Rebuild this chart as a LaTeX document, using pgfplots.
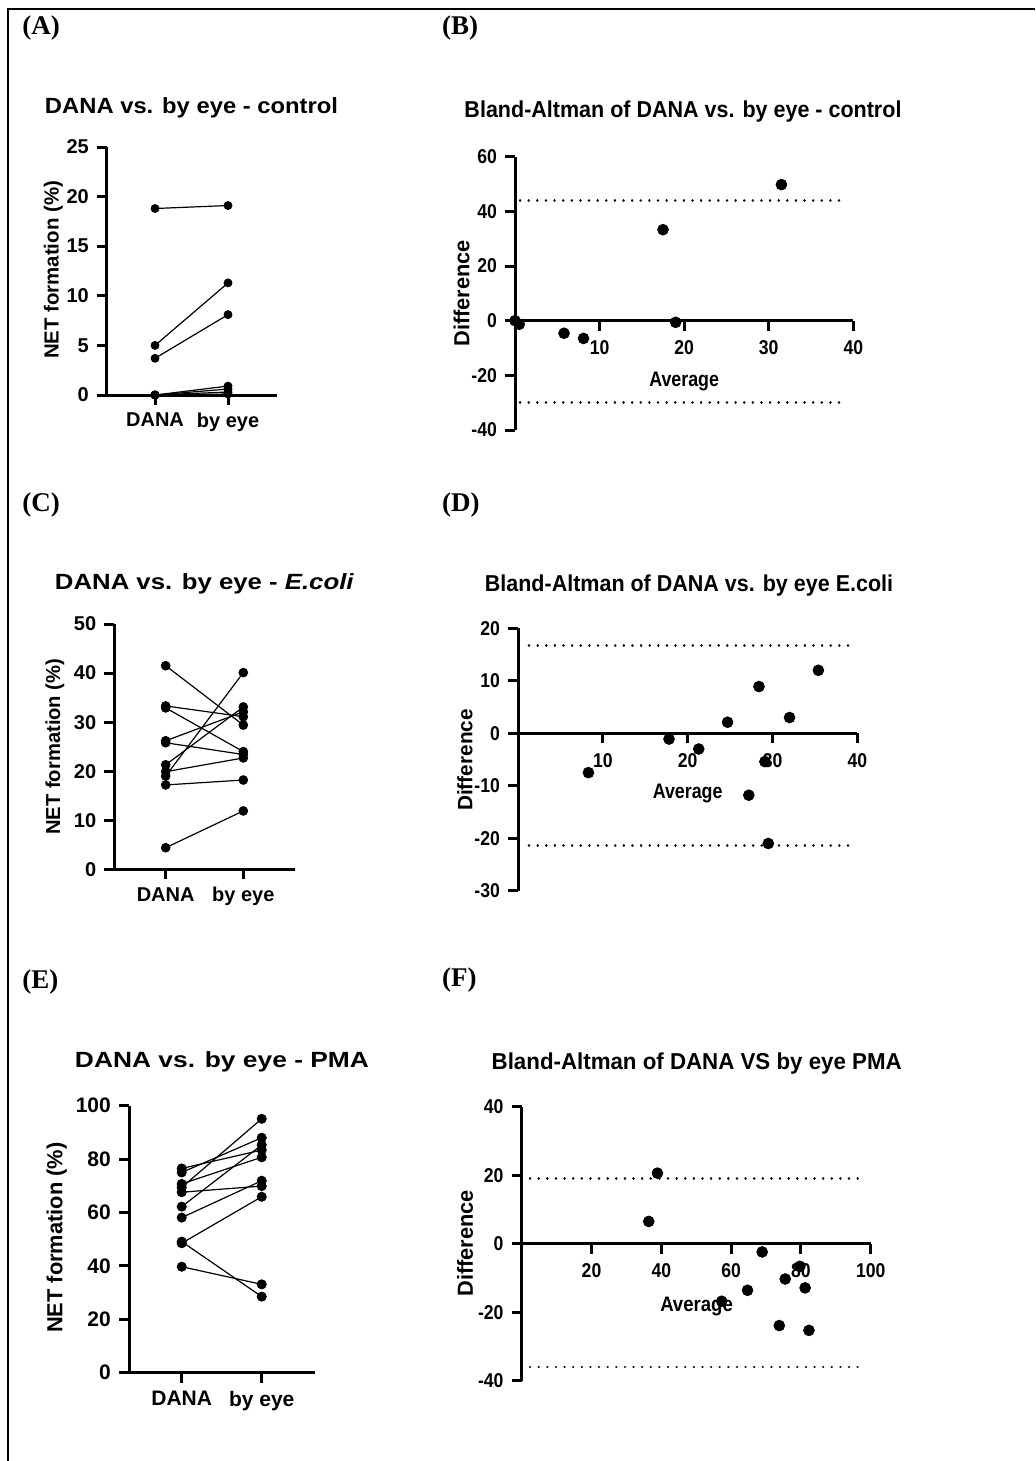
\documentclass[border=0pt]{standalone}
\usepackage{fontspec}
\setmainfont{Liberation Sans}
\newfontfamily\tnr{Liberation Serif}
\usepackage{graphicx}
\usepackage{pgfplots}
\pgfplotsset{compat=1.18}

\newcommand\cn[1]{\scalebox{0.88}[1]{#1}}

\pgfplotsset{
  base/.style={scale only axis, clip=false,
    line width=1.5pt,
    axis line style={line width=1.5pt,-},
    every tick/.style={line width=1.5pt,black},
    major tick length=5pt, tick align=outside,
    ticklabel style={font=\bfseries\fontsize{10}{12}\selectfont}},
  pairax/.style={base, axis x line*=bottom, axis y line*=left,
    xtick={1,2}, xticklabels={DANA,by eye}},
  baax/.style={base, axis x line*=middle, axis y line*=left, xmin=0,
    xtick align=outside, ytick align=outside,
    hide obscured x ticks=false, hide obscured y ticks=false,
    ticklabel style={font=\bfseries\fontsize{10}{12}\selectfont},
    xticklabel style={yshift=-1pt}},
  pair/.style={black, line width=0.6pt, mark=*, mark size=#1, mark options={solid,fill=black,line width=0.4pt}},
  pair/.default=2pt,
  dot/.style={only marks, mark=*, mark size=2.7pt, black, mark options={line width=0.4pt}},
  loa/.style={black, line width=1.3pt, line cap=round, dash pattern=on 0.01pt off 4.3pt},
}

\begin{document}
\begin{tikzpicture}
\path[use as bounding box] (0,0) rectangle (517.5pt,-730.5pt);
\draw[line width=1pt] (3.85pt,-730.5pt) -- (3.85pt,-4.5pt) -- (517.5pt,-4.5pt);

% panel letters
\foreach \l/\x/\y in {A/11pt/-14pt, B/220.85pt/-14pt, C/11pt/-252.5pt, D/220.85pt/-252.5pt, E/11pt/-491pt, F/220.85pt/-490pt}
  \node[font=\tnr\bfseries\fontsize{13.5}{15}\selectfont, anchor=west, inner sep=0] at (\x,\y) {(\l)};

% titles
\node[font=\bfseries\fontsize{11}{13}\selectfont, inner sep=0] at (95.75pt,-54pt) {\resizebox{146.5pt}{\height}{DANA vs. by eye - control}};
\node[font=\bfseries\fontsize{11.5}{13}\selectfont, inner sep=0] at (341.5pt,-55.85pt) {\resizebox{218.5pt}{\height}{Bland-Altman of DANA vs. by eye - control}};
\node[font=\bfseries\fontsize{11}{13}\selectfont, inner sep=0] at (102.25pt,-292pt) {\resizebox{149.5pt}{\height}{DANA vs. by eye - \textit{E.coli}}};
\node[font=\bfseries\fontsize{11.5}{13}\selectfont, inner sep=0] at (344.5pt,-293pt) {\resizebox{204.15pt}{\height}{Bland-Altman of DANA vs. by eye E.coli}};
\node[font=\bfseries\fontsize{11}{13}\selectfont, inner sep=0] at (111pt,-530.85pt) {\resizebox{147pt}{\height}{DANA vs. by eye - PMA}};
\node[font=\bfseries\fontsize{11.5}{13}\selectfont, inner sep=0] at (348.35pt,-531.65pt) {\resizebox{205pt}{\height}{Bland-Altman of DANA VS by eye PMA}};

% y labels
\node[rotate=90, font=\bfseries\fontsize{10.2}{12}\selectfont, inner sep=0] at (26.65pt,-135pt) {NET formation (\%)};
\node[rotate=90, font=\bfseries\fontsize{10.1}{12}\selectfont, inner sep=0] at (27.5pt,-373.35pt) {NET formation (\%)};
\node[rotate=90, font=\bfseries\fontsize{10.9}{12}\selectfont, inner sep=0] at (28.35pt,-618.85pt) {NET formation (\%)};
\node[rotate=90, font=\bfseries\fontsize{10.9}{12}\selectfont, inner sep=0] at (230.85pt,-146.65pt) {Difference};
\node[rotate=90, font=\bfseries\fontsize{10.4}{12}\selectfont, inner sep=0] at (232.5pt,-380pt) {Difference};
\node[rotate=90, font=\bfseries\fontsize{10.9}{12}\selectfont, inner sep=0] at (232.5pt,-621.65pt) {Difference};

% (A)
\begin{axis}[pairax, at={(53.5pt,-197.5pt)}, anchor=south west, width=85pt, height=124pt,
  xmin=0.342, xmax=2.671, ymin=0, ymax=25,
  ytick={0,5,10,15,20,25}, yticklabels={0,5,10,15,20,25}]
\addplot[pair] coordinates {(1,18.8)(2,19.1)};
\addplot[pair] coordinates {(1,5.0)(2,11.3)};
\addplot[pair] coordinates {(1,3.7)(2,8.1)};
\addplot[pair] coordinates {(1,0)(2,0.9)};
\addplot[pair] coordinates {(1,0)(2,0.6)};
\addplot[pair] coordinates {(1,0)(2,0.3)};
\addplot[pair] coordinates {(1,0)(2,0.1)};
\end{axis}

% (B)
\begin{axis}[baax, at={(257.5pt,-215pt)}, anchor=south west, width=169.15pt, height=136.65pt,
  xmax=40, ymin=-40, ymax=60,
  xtick={10,20,30,40}, xticklabels={\cn{10},\cn{20},\cn{30},\cn{40}},
  ytick={-40,-20,0,20,40,60}, yticklabels={\cn{-40},\cn{-20},\cn{0},\cn{20},\cn{40},\cn{60}}]
\addplot[loa] coordinates {(0.6,43.9)(39.2,43.9)};
\addplot[loa] coordinates {(0.6,-30.0)(39.2,-30.0)};
\addplot[dot] coordinates {(0,0)(0.5,-1.3)(5.8,-4.6)(8.1,-6.5)(17.5,33.3)(19.0,-0.6)(31.5,49.8)};
\node[font=\bfseries\fontsize{10.5}{12}\selectfont, inner sep=0] at (axis cs:20,-22.4) {\resizebox{34.85pt}{\height}{Average}};
\end{axis}

% (C)
\begin{axis}[pairax, at={(57.15pt,-434.65pt)}, anchor=south west, width=90.35pt, height=122.65pt,
  xmin=0.338, xmax=2.666, ymin=0, ymax=50,
  ytick={0,10,20,30,40,50}, yticklabels={0,10,20,30,40,50}]
\addplot[pair=2.2pt] coordinates {(1,4.4)(2,11.9)};
\addplot[pair=2.2pt] coordinates {(1,17.2)(2,18.2)};
\addplot[pair=2.2pt] coordinates {(1,41.5)(2,29.4)};
\addplot[pair=2.2pt] coordinates {(1,19.0)(2,40.1)};
\addplot[pair=2.2pt] coordinates {(1,21.3)(2,33.1)};
\addplot[pair=2.2pt] coordinates {(1,32.9)(2,24.0)};
\addplot[pair=2.2pt] coordinates {(1,33.3)(2,31.1)};
\addplot[pair=2.2pt] coordinates {(1,25.8)(2,23.4)};
\addplot[pair=2.2pt] coordinates {(1,19.9)(2,22.7)};
\addplot[pair=2.2pt] coordinates {(1,26.2)(2,32.1)};
\end{axis}

% (D)
\begin{axis}[baax, at={(259pt,-445.35pt)}, anchor=south west, width=169.7pt, height=131.2pt,
  xmax=40, ymin=-30, ymax=20,
  xtick={10,20,30,40}, xticklabels={\cn{10},\cn{20},\cn{30},\cn{40}},
  ytick={-30,-20,-10,0,10,20}, yticklabels={\cn{-30},\cn{-20},\cn{-10},\cn{0},\cn{10},\cn{20}}]
\addplot[loa] coordinates {(1.3,16.7)(39.3,16.7)};
\addplot[loa] coordinates {(1.3,-21.4)(39.3,-21.4)};
\addplot[dot] coordinates {(8.3,-7.5)(17.8,-1.1)(21.3,-3.0)(24.7,2.1)(27.2,-11.8)(28.4,8.9)(29.1,-5.4)(29.5,-21.0)(32.0,3.0)(35.4,12.0)};
\node[font=\bfseries\fontsize{10.5}{12}\selectfont, inner sep=0] at (axis cs:20,-11.4) {\resizebox{34.85pt}{\height}{Average}};
\end{axis}

% (E)
\begin{axis}[pairax, at={(64.5pt,-686.35pt)}, anchor=south west, width=93pt, height=133.5pt,
  xmin=0.341, xmax=2.666, ymin=0, ymax=100,
  ticklabel style={font=\bfseries\fontsize{10.5}{12}\selectfont},
  ytick={0,20,40,60,80,100}, yticklabels={0,20,40,60,80,100}]
\addplot[pair=2.3pt] coordinates {(1,39.7)(2,33.1)};
\addplot[pair=2.3pt] coordinates {(1,49.1)(2,28.5)};
\addplot[pair=2.3pt] coordinates {(1,48.5)(2,65.9)};
\addplot[pair=2.3pt] coordinates {(1,58.1)(2,71.9)};
\addplot[pair=2.3pt] coordinates {(1,67.6)(2,69.9)};
\addplot[pair=2.3pt] coordinates {(1,62.2)(2,85.3)};
\addplot[pair=2.3pt] coordinates {(1,70.7)(2,80.7)};
\addplot[pair=2.3pt] coordinates {(1,76.5)(2,83.4)};
\addplot[pair=2.3pt] coordinates {(1,75.0)(2,88.0)};
\addplot[pair=2.3pt] coordinates {(1,69.4)(2,95.1)};
\end{axis}

% (F)
\begin{axis}[baax, at={(260.85pt,-690.35pt)}, anchor=south west, width=174.5pt, height=137pt,
  xmax=100, ymin=-40, ymax=40,
  xtick={20,40,60,80,100}, xticklabels={\cn{20},\cn{40},\cn{60},\cn{80},\cn{100}},
  ytick={-40,-20,0,20,40}, yticklabels={\cn{-40},\cn{-20},\cn{0},\cn{20},\cn{40}}]
\addplot[loa] coordinates {(2.4,19.0)(98.4,19.0)};
\addplot[loa] coordinates {(2.4,-36.0)(98.4,-36.0)};
\addplot[dot] coordinates {(36.4,6.5)(38.9,20.6)(57.3,-16.8)(64.7,-13.6)(68.9,-2.4)(73.8,-23.9)(75.5,-10.3)(79.7,-6.6)(81.2,-12.9)(82.3,-25.3)};
\node[font=\bfseries\fontsize{10.5}{12}\selectfont, inner sep=0] at (axis cs:50.1,-18.3) {\resizebox{36.3pt}{\height}{Average}};
\end{axis}
\end{tikzpicture}
\end{document}
